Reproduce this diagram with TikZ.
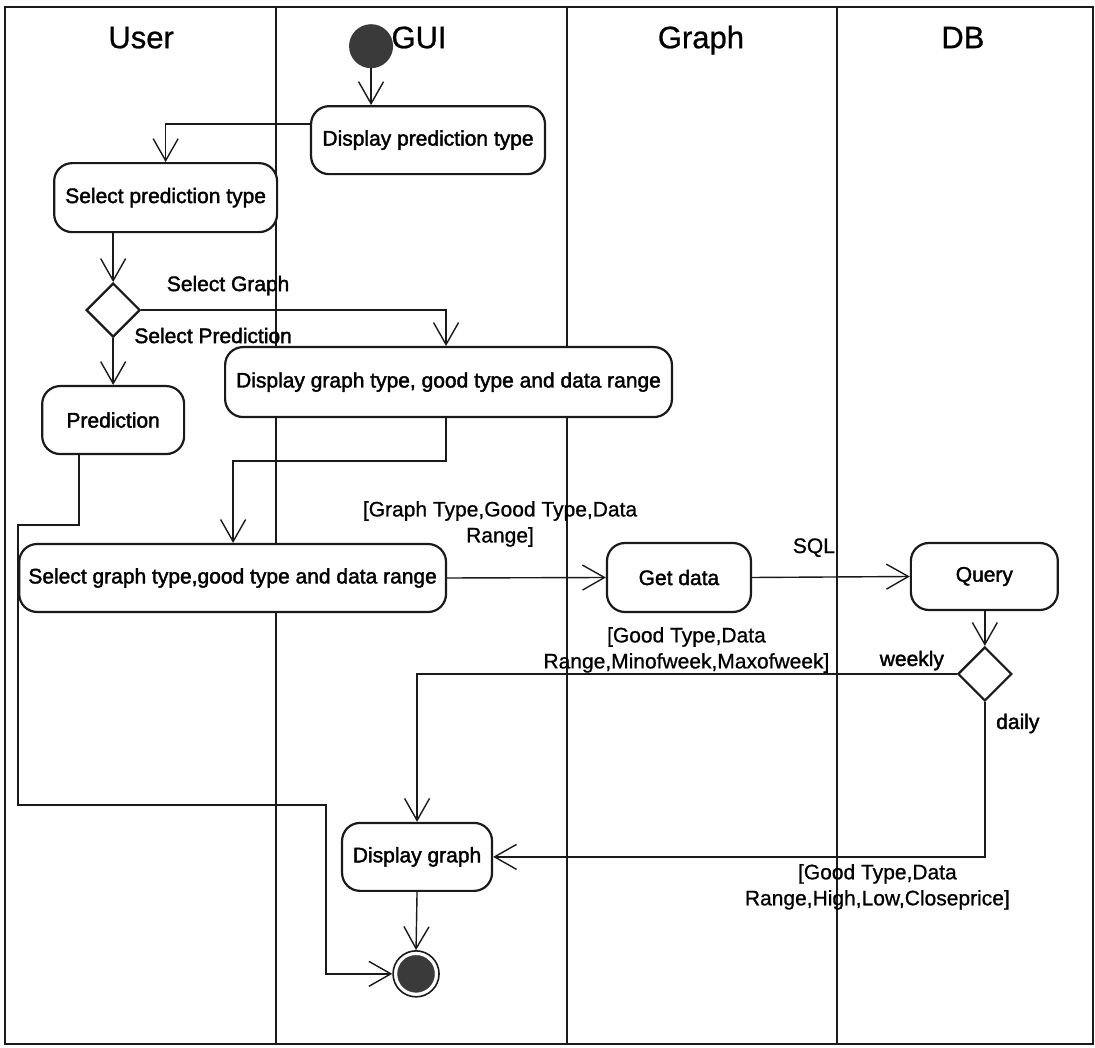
\documentclass[tikz,border=0pt]{standalone}
\usepackage{fontspec}
\setmainfont{Liberation Sans}
\newfontfamily\heavyfont[FakeBold=1.8]{Liberation Sans}
\newfontfamily\notefont[FakeBold=0.8]{Liberation Sans}
\usetikzlibrary{arrows.meta,shapes.geometric,calc}
\definecolor{ink}{HTML}{1A1A1A}
\definecolor{dot}{HTML}{3A3A3A}

\begin{document}
\begin{tikzpicture}[x=1pt,y=-1pt,
  every path/.style={draw=ink},
  lane/.style={line width=2pt},
  lanetitle/.style={font=\notefont\fontsize{31}{36}\selectfont, inner sep=0pt, anchor=base},
  act/.style={draw=ink, line width=2.2pt, rounded corners=18pt, fill=white, inner sep=0pt,
              font=\heavyfont\fontsize{21}{25}\selectfont},
  dec/.style={diamond, draw=ink, line width=2.2pt, fill=white, minimum width=54pt,
              minimum height=54pt, inner sep=0pt},
  flow/.style={line width=1.4pt, -{Straight Barb[length=22pt,width=25pt]}},
  guard/.style={font=\heavyfont\fontsize{21}{25}\selectfont, inner sep=0pt, anchor=base},
  note/.style={font=\notefont\fontsize{21}{26}\selectfont, align=center, inner sep=0pt},
]
\useasboundingbox (0,0) rectangle (1095,1047);
\fill[white] (0,0) rectangle (1095,1047);

% swimlanes
\draw[lane] (5,7) rectangle (1093,1044);
\draw[lane] (276,7) -- (276,1044);
\draw[lane] (567,7) -- (567,1044);
\draw[lane] (837,7) -- (837,1044);
\node[lanetitle] (tuser)  at (141,48) {User};
\node[lanetitle] (tgui)   at (419,48) {GUI};
\node[lanetitle] (tgraph) at (701,48) {Graph};
\node[lanetitle] (tdb)    at (963,48) {DB};

% start and end
\node[circle, fill=dot, minimum size=44pt, inner sep=0pt] (init) at (371,46) {};
\node[circle, draw=ink, line width=1.6pt, fill=white, minimum size=46pt, inner sep=0pt] (final) at (416,974) {};
\fill[dot] (final.center) circle (18.5);

% activities
\node[act, minimum width=234pt, minimum height=68pt] (dpt)   at (428,140)   {Display prediction type};
\node[act, minimum width=223pt, minimum height=69pt] (spt)   at (165.5,197.5) {Select prediction type};
\node[dec] (dec1) at (113,310) {};
\node[act, minimum width=142pt, minimum height=68pt] (pred)  at (113,420)   {Prediction};
\node[act, minimum width=447pt, minimum height=70pt] (dgt)   at (448.5,382) {Display graph type, good type and data range};
\node[act, minimum width=427pt, minimum height=68pt] (sgt)   at (232.5,578) {Select graph type,good type and data range};
\node[act, minimum width=144pt, minimum height=69pt] (get)   at (679,577.5) {Get data};
\node[act, minimum width=147pt, minimum height=67pt] (query) at (984.5,576.5) {Query};
\node[dec] (dec2) at (985,674) {};
\node[act, minimum width=150pt, minimum height=68pt] (dg)    at (417,857)   {Display graph};

% control flow
\draw[flow] (init) -- (init |- dpt.north);
\draw[flow] (dpt.west |- 0,124) -| (spt.north);
\draw[flow] (dec1.north |- spt.south) -- (dec1.north);
\draw[flow] (dec1.east) -| (dgt.north -| 446,0);
\draw[flow] (dec1.south) -- (pred.north);
\draw[flow] (dgt.south -| 446,0) |- (233,461) -- (sgt.north -| 233,0);
\draw[flow] (sgt.east) -- (get.west);
\draw[flow] (get.east) -- (query.west);
\draw[flow] (query.south -| dec2.north) -- (dec2.north);
\draw[flow] (dec2.west) -| (dg.north);
\draw[flow] (dec2.south) |- (dg.east);
\draw[flow] (dg.south) -- (final.north);
\draw[flow] (pred.south -| 79,0) -- (79,525) -- (18,525) -- (18,805) -- (326,805) |- (final.west);

% guards and object flows
\node[guard] (lgraph) at (228,291) {Select Graph};
\node[guard] (lpred)  at (213,343) {Select Prediction};
\node[note]  (lsel)   at (500,524) {[Graph Type,Good Type,Data\\Range]};
\node[note, anchor=base] (lsql) at (814,553) {SQL};
\node[guard] (lweek)  at (912,666) {weekly};
\node[guard] (lday)   at (1018,729) {daily};
\node[note]  (lweekdata) at (686.5,650) {[Good Type,Data\\Range,Minofweek,Maxofweek]};
\node[note]  (ldaydata)  at (877.5,887) {[Good Type,Data\\Range,High,Low,Closeprice]};
\end{tikzpicture}
\end{document}
